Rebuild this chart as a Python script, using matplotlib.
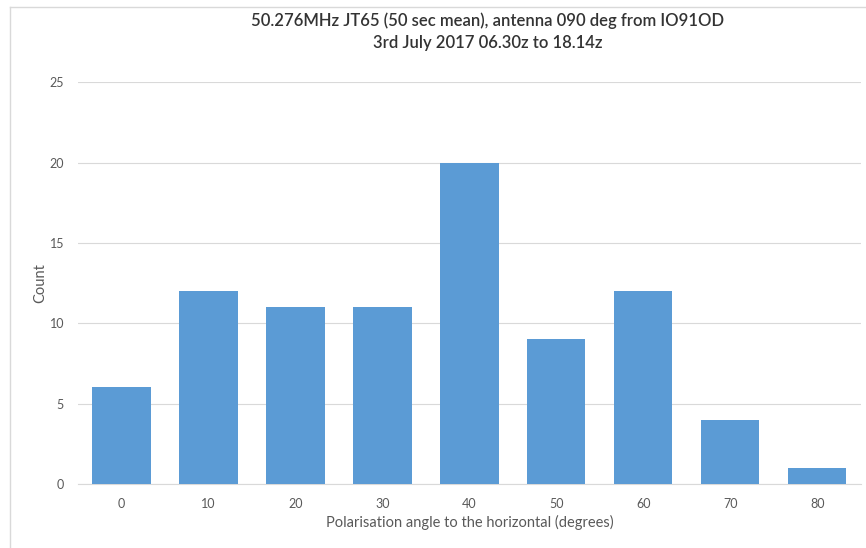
import matplotlib.pyplot as plt
from matplotlib.lines import Line2D

# Polarisation angle histogram
angles = [0, 10, 20, 30, 40, 50, 60, 70, 80]
counts = [6, 12, 11, 11, 20, 9, 12, 4, 1]

plt.rcParams['font.family'] = ['Lato', 'DejaVu Sans']

fig = plt.figure(figsize=(8.66, 5.48), dpi=100)
ax = fig.add_axes([0.090, 0.117, 0.904, 0.733])

x = range(len(angles))
ax.bar(x, counts, width=0.67, color='#5B9BD5', zorder=3)

ax.set_xlim(-0.5, len(angles) - 0.5)
ax.set_ylim(0, 25)
ax.set_yticks([0, 5, 10, 15, 20, 25])
ax.set_xticks(list(x))
ax.set_xticklabels([str(a) for a in angles])
ax.tick_params(axis='both', length=0, labelsize=9, colors='#595959', pad=10)
ax.grid(axis='y', color='#D9D9D9', linewidth=0.8, zorder=0)
for s in ['top', 'right', 'left']:
    ax.spines[s].set_visible(False)
ax.spines['bottom'].set_color('#D9D9D9')

ax.set_xlabel('Polarisation angle to the horizontal (degrees)', fontsize=10.5,
              color='#595959', labelpad=4)
ax.set_ylabel('Count', fontsize=10.5, color='#595959', labelpad=2)

title_lines = ['50.276MHz JT65 (50 sec mean), antenna 090 deg from IO91OD',
               '3rd July 2017 06.30z to 18.14z']
fig.text(0.563, 0.963, title_lines[0], ha='center', va='center',
         fontsize=12, color='#333333', fontweight='semibold')
fig.text(0.563, 0.921, title_lines[1], ha='center', va='center',
         fontsize=12, color='#333333', fontweight='semibold')

# chart frame
fig.add_artist(Line2D([10 / 866, 10 / 866], [0, 1 - 7 / 548], color='#D9D9D9',
                      linewidth=1, transform=fig.transFigure))
fig.add_artist(Line2D([10 / 866, 1], [1 - 7 / 548, 1 - 7 / 548], color='#D9D9D9',
                      linewidth=1, transform=fig.transFigure))

fig.savefig('out.png', dpi=100)
